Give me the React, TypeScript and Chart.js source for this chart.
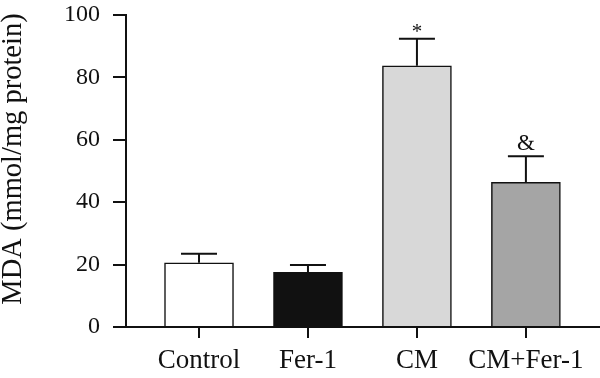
import React, { useEffect, useRef } from "react";
import { Chart, registerables } from "chart.js";

Chart.register(...registerables);

const categories = ["Control", "Fer-1", "CM", "CM+Fer-1"];
const means = [20.6, 17.5, 83.7, 46.4];
const errorTops = [23.5, 19.9, 92.4, 54.7];
const barColors = ["#ffffff", "#111111", "#d8d8d8", "#a5a5a5"];
const marks = ["", "", "*", "&"];
const yTicks = [0, 20, 40, 60, 80, 100];
const yTitle = "MDA (mmol/mg protein)";

const FONT = "'Liberation Serif', 'DejaVu Serif', serif";

const errorBarPlugin = {
  id: "errorBars",
  afterDatasetsDraw(chart: any) {
    const { ctx, scales } = chart;
    const xs = scales.x;
    const ys = scales.y;
    ctx.save();
    ctx.strokeStyle = "#111";
    ctx.lineWidth = 2;
    means.forEach((m, i) => {
      const x = xs.getPixelForValue(i + 1);
      const y0 = ys.getPixelForValue(m);
      const y1 = ys.getPixelForValue(errorTops[i]);
      ctx.beginPath();
      ctx.moveTo(x, y0);
      ctx.lineTo(x, y1);
      ctx.moveTo(x - 18, y1);
      ctx.lineTo(x + 18, y1);
      ctx.stroke();
      if (marks[i]) {
        ctx.fillStyle = "#111";
        ctx.textAlign = "center";
        ctx.textBaseline = "alphabetic";
        const star = marks[i] === "*";
        ctx.font = star ? `21px ${FONT}` : `23px ${FONT}`;
        ctx.fillText(marks[i], x, star ? y1 - 1 : y1 - 6);
      }
    });
    // y-axis title
    ctx.save();
    ctx.translate(14, (ys.top + ys.bottom) / 2 - 12);
    ctx.rotate(-Math.PI / 2);
    ctx.textAlign = "center";
    ctx.textBaseline = "middle";
    ctx.fillStyle = "#111";
    ctx.font = `28.5px ${FONT}`;
    ctx.fillText(yTitle, 0, 0);
    ctx.restore();
    ctx.restore();
  },
};

export default function App() {
  const ref = useRef<HTMLCanvasElement | null>(null);
  useEffect(() => {
    if (!ref.current) return;
    const chart = new Chart(ref.current, {
      type: "bar",
      data: {
        datasets: [
          {
            data: means.map((v, i) => ({ x: i + 1, y: v })),
            backgroundColor: barColors,
            borderColor: "#111",
            borderWidth: 1.5,
            barThickness: 69,
          } as any,
        ],
      },
      options: {
        animation: false,
        responsive: true,
        maintainAspectRatio: false,
        layout: { padding: { top: 15, right: 0, left: 0, bottom: 0 } },
        plugins: { legend: { display: false }, tooltip: { enabled: false } },
        scales: {
          x: {
            type: "linear",
            offset: false,
            min: 0.33,
            max: 4.68,
            afterBuildTicks: (scale: any) => {
              scale.ticks = categories.map((_, i) => ({ value: i + 1 }));
            },
            afterFit: (scale: any) => {
              scale.height = 51;
              scale.paddingRight = 0;
              scale.paddingLeft = 0;
            },
            ticks: {
              autoSkip: false,
              maxRotation: 0,
              color: "#111",
              padding: 7,
              font: { family: FONT, size: 27 },
              callback: (v: any) => categories[Number(v) - 1] ?? "",
            },
            grid: { offset: false, drawOnChartArea: false, drawTicks: true, tickLength: 11, color: "#111", lineWidth: 2 },
            border: { display: true, color: "#111", width: 2 },
          },
          y: {
            min: 0,
            max: 100,
            afterBuildTicks: (scale: any) => {
              scale.ticks = yTicks.map((v) => ({ value: v }));
            },
            afterFit: (scale: any) => {
              scale.width = 126;
              scale.paddingTop = 0;
              scale.paddingBottom = 0;
            },
            ticks: {
              color: "#111",
              padding: 13,
              font: { family: FONT, size: 24 },
            },
            title: { display: false },
            grid: { drawOnChartArea: false, drawTicks: true, tickLength: 13, color: "#111", lineWidth: 2 },
            border: { display: true, color: "#111", width: 2 },
          },
        },
      },
      plugins: [errorBarPlugin],
    });
    return () => chart.destroy();
  }, []);
  return (
    <div style={{ position: "fixed", left: 0, top: 0, width: 600, height: 378, background: "#fff" }}>
      <canvas ref={ref} />
    </div>
  );
}
